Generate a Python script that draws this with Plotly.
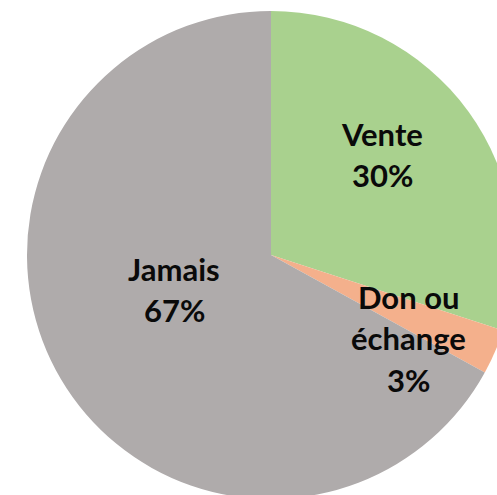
import plotly.graph_objects as go

# ---- data ----
labels = ["Vente", "Don ou échange", "Jamais"]
label_lines = [["Vente"], ["Don ou", "échange"], ["Jamais"]]
values = [30, 3, 67]
colors = ["#A9D18E", "#F4B08C", "#AFABAB"]

# ---- layout constants (pixels) ----
W, H = 544, 510
ML, MR, MT, MB = 27, 29, 11, 11
DW = W - ML - MR
DH = H - MT - MB
FONT = dict(family="Lato, 'Open Sans', sans-serif", size=31, color="#0a0a0a")
LINE = 41.7
# label block anchor (x centre, y of first-line cap centre) in pixels
label_pos = [(382, 133.5), (408.5, 296.7), (174, 268.5)]

fig = go.Figure(
    go.Pie(
        labels=labels,
        values=values,
        sort=False,
        direction="clockwise",
        rotation=0,
        marker=dict(colors=colors, line=dict(width=0)),
        textinfo="none",
        showlegend=False,
    )
)

total = sum(values)
annotations = []
for lines, v, (px, py) in zip(label_lines, values, label_pos):
    all_lines = lines + [f"{round(100 * v / total)}%"]
    for i, t in enumerate(all_lines):
        y_px = py + i * LINE
        annotations.append(
            dict(
                text=f"<b>{t}</b>",
                x=(px - ML) / DW,
                y=1 - (y_px - MT) / DH,
                xref="paper",
                yref="paper",
                xanchor="center",
                yanchor="middle",
                showarrow=False,
                font=FONT,
            )
        )

fig.update_layout(
    width=W,
    height=H,
    margin=dict(l=ML, r=MR, t=MT, b=MB),
    paper_bgcolor="white",
    plot_bgcolor="white",
    annotations=annotations,
)

fig.write_html(
    "out.html",
    config={"displayModeBar": False},
    post_script="document.body.style.margin='0';document.body.style.overflow='hidden';",
)
